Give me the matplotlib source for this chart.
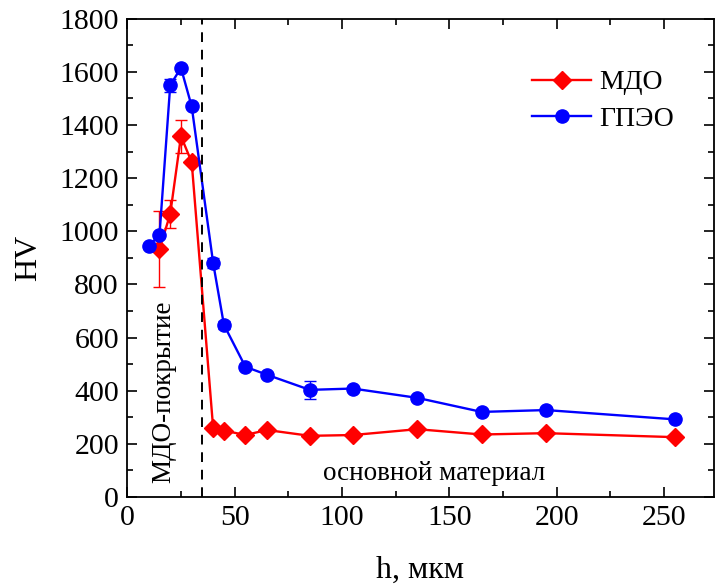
import numpy as np
import matplotlib
matplotlib.use("Agg")
import matplotlib.pyplot as plt
from matplotlib.ticker import MultipleLocator

plt.rcParams['font.family'] = ['Liberation Serif', 'DejaVu Serif']

# depth, um
h_mdo = [15, 20, 25, 30, 40, 45, 55, 65, 85, 105, 135, 165, 195, 255]
hv_mdo = [933, 1065, 1358, 1260, 258, 250, 233, 252, 230, 233, 255, 235, 240, 225]
err_mdo = [143, 52, 62, 0, 0, 0, 0, 0, 0, 0, 0, 0, 0, 0]

h_gpeo = [10, 15, 20, 25, 30, 40, 45, 55, 65, 85, 105, 135, 165, 195, 255]
hv_gpeo = [945, 985, 1550, 1615, 1470, 880, 648, 490, 460, 403, 408, 373, 320, 327, 292]
err_gpeo = [0, 0, 25, 0, 0, 20, 15, 0, 0, 33, 0, 0, 0, 0, 0]

boundary = 35

fig = plt.figure(figsize=(7.15, 5.86), dpi=100)
ax = fig.add_axes([0.178, 0.152, 0.82, 0.816])

red, blue = '#ff0000', '#0000ff'
ax.errorbar(h_mdo, hv_mdo, yerr=err_mdo, fmt='none', ecolor=red,
            capsize=4, elinewidth=1.0, capthick=1.0)
ax.errorbar(h_gpeo, hv_gpeo, yerr=err_gpeo, fmt='none', ecolor=blue,
            capsize=4, elinewidth=1.0, capthick=1.0)
ax.plot(h_mdo, hv_mdo, color=red, marker='D', ms=9, lw=1.7, label='МДО')
ax.plot(h_gpeo, hv_gpeo, color=blue, marker='o', ms=9.5, lw=1.7, label='ГПЭО')

ax.axvline(boundary, color='black', ls=(0, (5, 4)), lw=1.4)

ax.text(17, 395, 'МДО-покрытие', rotation=90, ha='center', va='center', fontsize=19.5)
ax.text(143, 90, 'основной материал', ha='center', va='center', fontsize=19.5)

ax.set_xlim(0, 273)
ax.set_ylim(0, 1800)
ax.xaxis.set_major_locator(MultipleLocator(50))
ax.xaxis.set_minor_locator(MultipleLocator(25))
ax.yaxis.set_major_locator(MultipleLocator(200))
ax.yaxis.set_minor_locator(MultipleLocator(100))
ax.tick_params(which='both', direction='in', top=True, right=True, width=1.2)
ax.tick_params(which='major', length=7, labelsize=21.5, pad=6)
ax.tick_params(which='minor', length=4)
for s in ax.spines.values():
    s.set_linewidth(1.3)

ax.set_xlabel('h, мкм', fontsize=23, labelpad=18)
ax.set_ylabel('HV', fontsize=23, labelpad=12)

ax.legend(loc='upper right', bbox_to_anchor=(0.975, 0.945), frameon=False,
          fontsize=20, handlelength=2.1, handletextpad=0.3, labelspacing=0.4)

fig.savefig('out.png', dpi=100)
